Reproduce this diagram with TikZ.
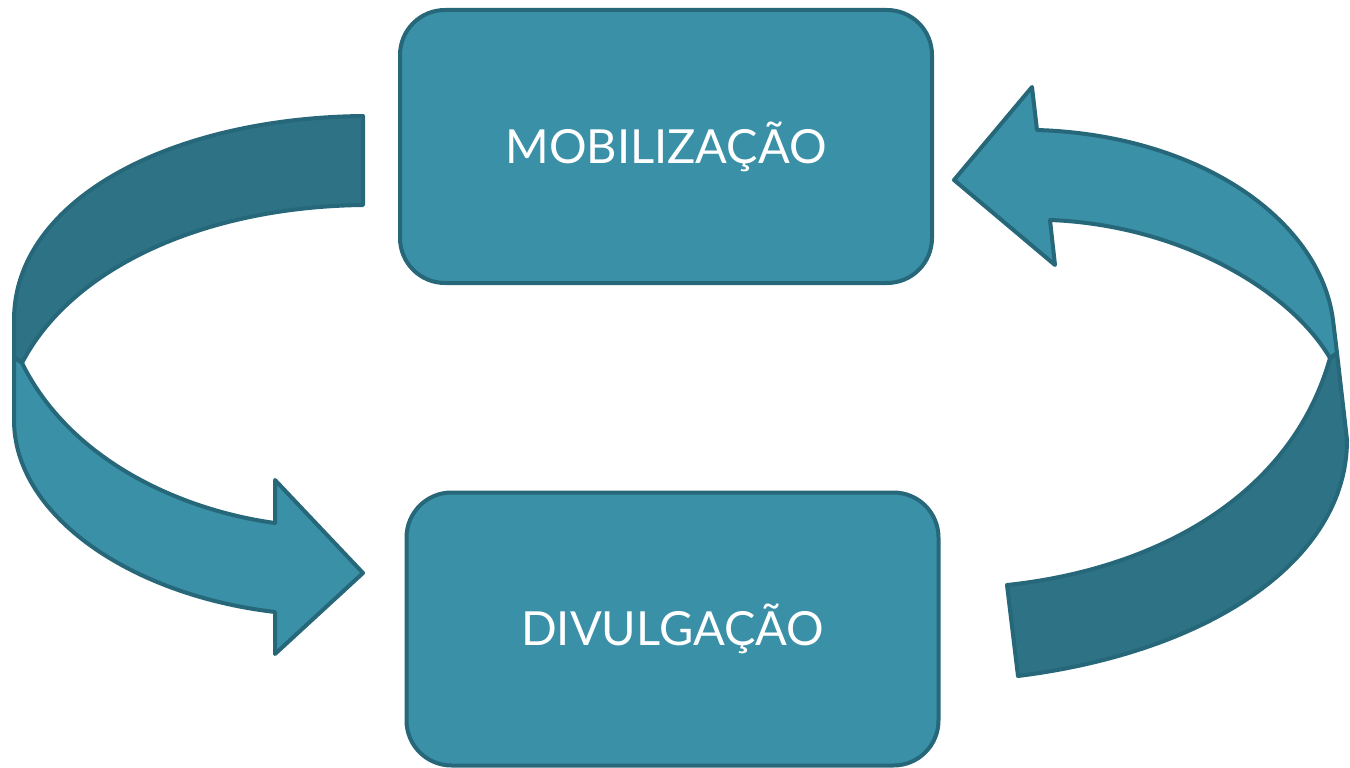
\documentclass[tikz,border=0pt]{standalone}
\usepackage{fontspec}
\setmainfont{Lato}
\definecolor{tealL}{RGB}{58,144,167}
\definecolor{tealD}{RGB}{45,115,133}
\definecolor{tealS}{RGB}{38,103,121}
\begin{document}
\begin{tikzpicture}[x=1pt,y=-1pt,
  box/.style={draw=tealS,fill=tealL,line width=4pt,rounded corners=45pt,
    minimum width=532pt,minimum height=273pt,inner sep=0pt,
    text=white,font=\fontsize{47}{50}\selectfont},
  light/.style={draw=tealS,fill=tealL,line width=4pt,line join=round},
  dark/.style={draw=tealS,fill=tealD,line width=4pt,line join=round}]
\useasboundingbox (0,0) rectangle (1350,768);
% boxes
\node[box] (mob) at (666,146.5) {MOBILIZAÇÃO};
\node[box] (div) at (672.5,629) {DIVULGAÇÃO};
% left arrow: back (dark) part
\draw[dark] (363,116) .. controls (170,118) and (14,200) .. (14,320)
  -- (14,357) -- (22,363)
  .. controls (70,270) and (200,207) .. (363,205) -- cycle;
% left arrow: front (light) part
\draw[light] (22,363) .. controls (70,460) and (180,510) .. (275,523)
  -- (275,480) -- (363,573) -- (275,654) -- (275,612)
  .. controls (130,595) and (14,515) .. (14,420)
  -- (14,357) -- cycle;
% right arrow: back (dark) part
\draw[dark] (1330,358) .. controls (1290,500) and (1150,570) .. (1007,585)
  -- (1018,676)
  .. controls (1210,652) and (1347,560) .. (1347,440)
  -- (1337,353) -- cycle;
% right arrow: front (light) part
\draw[light] (1037,130) .. controls (1200,135) and (1320,220) .. (1333,320)
  -- (1337,353) -- (1330,358)
  .. controls (1290,290) and (1180,225) .. (1050,220)
  -- (1055,265) -- (954,180) -- (1032,87) -- cycle;
\end{tikzpicture}
\end{document}
